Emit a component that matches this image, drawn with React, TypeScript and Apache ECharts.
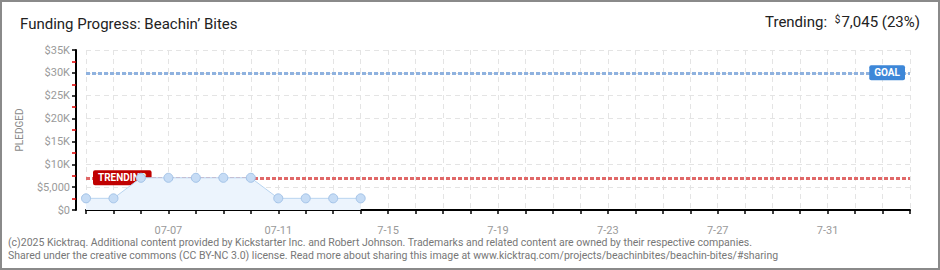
import React, { useEffect, useRef } from "react";
import * as echarts from "echarts";

// ---- data ----
const dates: string[] = [
  "07-04", "07-05", "07-06", "07-07", "07-08", "07-09", "07-10", "07-11",
  "07-12", "07-13", "07-14", "07-15", "07-16", "07-17", "07-18", "07-19",
  "07-20", "07-21", "07-22", "07-23", "07-24", "07-25", "07-26", "07-27",
  "07-28", "07-29", "07-30", "07-31", "08-01", "08-02", "08-03",
];
const tickLabels: Record<string, string> = {
  "07-07": "07-07",
  "07-11": "07-11",
  "07-15": "7-15",
  "07-19": "7-19",
  "07-23": "7-23",
  "07-27": "7-27",
  "07-31": "7-31",
};
const pledged: number[] = [2550, 2550, 7045, 7045, 7045, 7045, 7045, 2550, 2550, 2550, 2550];
const goal = 30000;
const trending = 7045;
const yTicks = { min: 0, max: 35000, interval: 5000 };

const titleText = "Funding Progress: Beachin\u2019 Bites";
const footer1 =
  "(c)2025 Kicktraq. Additional content provided by Kickstarter Inc. and Robert Johnson. Trademarks and related content are owned by their respective companies.";
const footer2 =
  "Shared under the creative commons (CC BY-NC 3.0) license. Read more about sharing this image at www.kicktraq.com/projects/beachinbites/beachin-bites/#sharing";

const fmtY = (v: number) => {
  if (v === 0) return "$0";
  if (v < 10000) return "$" + v.toLocaleString("en-US");
  return "$" + v / 1000 + "K";
};

const SANS = "'Roboto', 'DejaVu Sans', sans-serif";

export default function App() {
  const ref = useRef<HTMLDivElement>(null);
  useEffect(() => {
    if (!ref.current) return;
    const chart = echarts.init(ref.current, null, { renderer: "svg" });
    chart.setOption({
      animation: false,
      backgroundColor: "#ffffff",
      grid: { left: 86, right: 30, top: 50, bottom: 60, containLabel: false },
      xAxis: {
        type: "category",
        data: dates,
        boundaryGap: false,
        offset: 10,
        axisLine: { lineStyle: { color: "#000", width: 2 } },
        axisTick: { show: true, interval: 0, length: 4, lineStyle: { color: "#000", width: 1.5 } },
        axisLabel: {
          interval: (i: number, v: string) => tickLabels[v] !== undefined,
          formatter: (v: string) => tickLabels[v] || "",
          color: "#9a9a9a",
          fontFamily: SANS,
          fontSize: 11,
          margin: 5,
        },
        splitLine: { show: true, interval: 0, lineStyle: { color: "#e4e4e4", type: [5, 4], width: 1 } },
      },
      yAxis: {
        type: "value",
        min: yTicks.min,
        max: yTicks.max,
        interval: yTicks.interval,
        offset: 10,
        name: "PLEDGED",
        nameLocation: "middle",
        nameGap: 52,
        nameRotate: 90,
        nameTextStyle: { color: "#8a8a8a", fontSize: 10, fontFamily: SANS },
        axisLine: { show: true, lineStyle: { color: "#000", width: 2 } },
        axisTick: { show: true, length: 4, lineStyle: { color: "#000", width: 1.5 } },
        minorTick: { show: true, splitNumber: 2, length: 4, lineStyle: { color: "#e00000", width: 1.5 } },
        axisLabel: { formatter: fmtY, color: "#9a9a9a", fontFamily: SANS, fontSize: 11, margin: 6 },
        splitLine: { show: true, lineStyle: { color: "#e4e4e4", type: [5, 4], width: 1 } },
      },
      series: [
        {
          type: "line",
          data: pledged,
          symbol: "circle",
          symbolSize: 9,
          itemStyle: { color: "#c6dcf5", borderColor: "#a3c3e8", borderWidth: 1 },
          lineStyle: { color: "#b8d4f0", width: 1 },
          areaStyle: { color: "#ecf4fd", opacity: 1 },
          z: 3,
          markLine: {
            silent: true,
            symbol: ["none", "none"],
            z: 2,
            data: [
              {
                yAxis: goal,
                lineStyle: { color: "#8fb2df", type: [4, 2], width: 3 },
                label: {
                  show: true,
                  position: "insideEnd",
                  distance: [5, 0],
                  formatter: "GOAL",
                  color: "#fff",
                  backgroundColor: "#3d87d8",
                  borderRadius: 2,
                  padding: [3, 5, 2, 5],
                  fontSize: 10,
                  fontWeight: "bold",
                  fontFamily: SANS,
                },
              },
              {
                yAxis: trending,
                lineStyle: { color: "#e06868", type: [4, 2], width: 3 },
                label: {
                  show: true,
                  position: "insideStart",
                  distance: [7, 0],
                  formatter: "TRENDING",
                  color: "#fff",
                  backgroundColor: "#c00000",
                  borderRadius: 2,
                  padding: [3, 5, 2, 5],
                  fontSize: 10,
                  fontWeight: "bold",
                  fontFamily: SANS,
                },
              },
            ],
          },
        },
      ],
      graphic: [
        {
          type: "rect",
          silent: true,
          shape: { x: 1, y: 1, width: 938, height: 268 },
          style: { fill: "none", stroke: "#8a8a8a", lineWidth: 2 },
          z: 100,
        },
        {
          type: "text",
          left: 20,
          top: 16,
          style: { text: titleText, fill: "#222", font: `15px ${SANS}` },
        },
        {
          type: "text",
          right: 20,
          top: 14,
          style: {
            text: "Trending: {s|$}7,045 (23%)",
            fill: "#222",
            font: `15px ${SANS}`,
            rich: {
              s: { fontSize: 10, verticalAlign: "top", fill: "#222", fontFamily: SANS, padding: [0, 1, 6, 4] },
            },
          },
        },
        {
          type: "text",
          left: 8,
          top: 237,
          style: { text: footer1, fill: "#777", font: `10.5px ${SANS}` },
        },
        {
          type: "text",
          left: 8,
          top: 250,
          style: { text: footer2, fill: "#777", font: `10.5px ${SANS}` },
        },
      ],
    });
    return () => chart.dispose();
  }, []);
  return (
    <div style={{ position: "absolute", left: 0, top: 0, width: 940, height: 270 }}>
      <div ref={ref} style={{ width: 940, height: 270 }} />
    </div>
  );
}
